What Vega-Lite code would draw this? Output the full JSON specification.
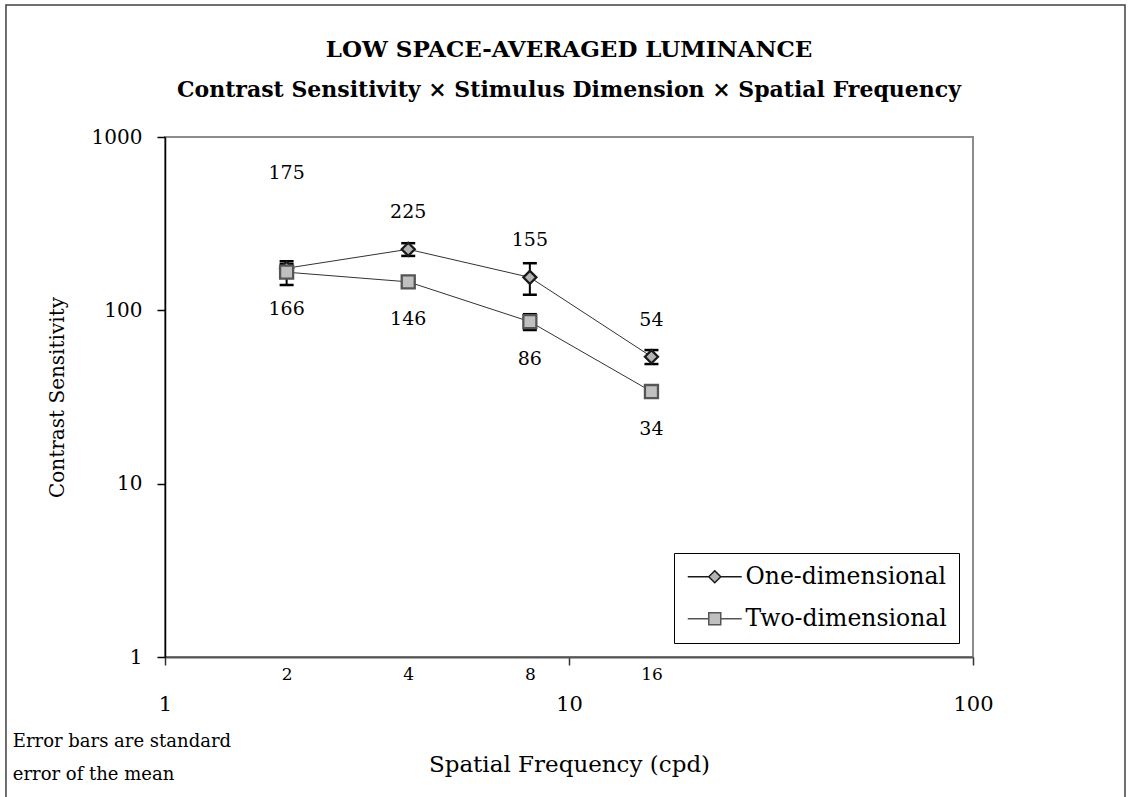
{
  "$schema": "https://vega.github.io/schema/vega-lite/v6.json",
  "width": 808,
  "height": 520,
  "autosize": {"type": "none"},
  "padding": {"left": 165, "top": 137, "right": 157, "bottom": 140},
  "background": "#ffffff",
  "config": {
    "view": {"stroke": "#8c8c8c", "strokeWidth": 2},
    "font": "DejaVu Serif",
    "axis": {"grid": false, "labelFlush": false}
  },
  "title": {
    "text": "LOW SPACE-AVERAGED LUMINANCE",
    "subtitle": "Contrast Sensitivity × Stimulus Dimension × Spatial Frequency",
    "font": "DejaVu Serif",
    "fontSize": 23,
    "fontWeight": "bold",
    "color": "#000000",
    "subtitleFont": "DejaVu Serif",
    "subtitleFontSize": 22,
    "subtitleFontWeight": "bold",
    "subtitleColor": "#000000",
    "subtitlePadding": 18,
    "anchor": "middle",
    "offset": -97
  },
  "data": {
    "values": [
      {"freq": 2, "series": "One-dimensional", "cs": 175, "lo": 165, "hi": 185},
      {"freq": 4, "series": "One-dimensional", "cs": 225, "lo": 206, "hi": 244},
      {"freq": 8, "series": "One-dimensional", "cs": 155, "lo": 123, "hi": 187},
      {"freq": 16, "series": "One-dimensional", "cs": 54, "lo": 49, "hi": 59},
      {"freq": 2, "series": "Two-dimensional", "cs": 166, "lo": 140, "hi": 192},
      {"freq": 4, "series": "Two-dimensional", "cs": 146, "lo": 140, "hi": 152},
      {"freq": 8, "series": "Two-dimensional", "cs": 86, "lo": 77, "hi": 95},
      {"freq": 16, "series": "Two-dimensional", "cs": 34, "lo": 32, "hi": 36}
    ]
  },
  "resolve": {
    "axis": {"x": "independent", "y": "independent"},
    "scale": {"shape": "independent", "fill": "independent", "stroke": "independent"}
  },
  "layer": [
    {
      "description": "frame around the whole figure",
      "data": {"values": [{"frame": "outer"}]},
      "mark": {"type": "rect", "fill": null, "fillOpacity": 0, "stroke": "#404040", "strokeWidth": 1.5},
      "encoding": {
        "x": {"datum": 0.404, "type": "quantitative", "scale": {"type": "log", "domain": [1, 100], "nice": false}, "axis": null},
        "x2": {"datum": 237.8},
        "y": {"datum": 5775, "type": "quantitative", "scale": {"type": "log", "domain": [1, 1000], "nice": false}, "axis": null},
        "y2": {"datum": 0.1}
      }
    },
    {
      "mark": {"type": "line", "color": "#333333", "strokeWidth": 1},
      "encoding": {
        "x": {
          "field": "freq", "type": "quantitative",
          "scale": {"type": "log", "domain": [1, 100], "nice": false},
          "axis": {
            "orient": "bottom", "values": [2, 4, 8, 16], "format": "d",
            "domain": false, "ticks": false, "title": null,
            "labelFont": "DejaVu Serif", "labelFontSize": 17, "labelColor": "#000000",
            "labelPadding": 9
          }
        },
        "y": {"field": "cs", "type": "quantitative", "scale": {"type": "log", "domain": [1, 1000], "nice": false}, "axis": null},
        "detail": {"field": "series"}
      }
    },
    {
      "mark": {"type": "rule", "color": "#000000", "strokeWidth": 2},
      "encoding": {
        "x": {"field": "freq", "type": "quantitative", "scale": {"type": "log", "domain": [1, 100], "nice": false}, "axis": null},
        "y": {"field": "lo", "type": "quantitative", "scale": {"type": "log", "domain": [1, 1000], "nice": false}, "axis": null},
        "y2": {"field": "hi"}
      }
    },
    {
      "mark": {"type": "tick", "orient": "horizontal", "size": 14, "thickness": 2.5, "color": "#000000", "opacity": 1},
      "encoding": {
        "x": {"field": "freq", "type": "quantitative", "scale": {"type": "log", "domain": [1, 100], "nice": false}, "axis": null},
        "y": {"field": "lo", "type": "quantitative", "scale": {"type": "log", "domain": [1, 1000], "nice": false}, "axis": null}
      }
    },
    {
      "mark": {"type": "tick", "orient": "horizontal", "size": 14, "thickness": 2.5, "color": "#000000", "opacity": 1},
      "encoding": {
        "x": {"field": "freq", "type": "quantitative", "scale": {"type": "log", "domain": [1, 100], "nice": false}, "axis": null},
        "y": {"field": "hi", "type": "quantitative", "scale": {"type": "log", "domain": [1, 1000], "nice": false}, "axis": null}
      }
    },
    {
      "mark": {"type": "point", "filled": true, "size": 170, "strokeWidth": 2.3, "opacity": 1},
      "encoding": {
        "x": {
          "field": "freq", "type": "quantitative",
          "scale": {"type": "log", "domain": [1, 100], "nice": false},
          "axis": {
            "orient": "bottom", "values": [1, 10, 100], "format": "d",
            "domainColor": "#555555", "domainWidth": 2,
            "tickColor": "#333333", "tickSize": 8, "tickWidth": 1.5,
            "labelFont": "DejaVu Serif", "labelFontSize": 21, "labelColor": "#000000",
            "labelPadding": 28,
            "title": "Spatial Frequency (cpd)",
            "titleFont": "DejaVu Serif", "titleFontSize": 23, "titleFontWeight": "normal",
            "titleColor": "#000000", "titlePadding": 39
          }
        },
        "y": {
          "field": "cs", "type": "quantitative",
          "scale": {"type": "log", "domain": [1, 1000], "nice": false},
          "axis": {
            "orient": "left",
            "values": [1, 10, 100, 1000], "format": "d",
            "domainColor": "#000000", "domainWidth": 1.5,
            "tickColor": "#000000", "tickSize": 8, "tickWidth": 1.5,
            "labelFont": "DejaVu Serif", "labelFontSize": 20, "labelColor": "#000000",
            "labelPadding": 15,
            "title": "Contrast Sensitivity",
            "titleFont": "DejaVu Serif", "titleFontSize": 20, "titleFontWeight": "normal",
            "titleColor": "#000000", "titlePadding": 24
          }
        },
        "shape": {
          "field": "series", "type": "nominal",
          "scale": {"domain": ["One-dimensional", "Two-dimensional"], "range": ["diamond", "square"]},
          "legend": null
        },
        "fill": {
          "field": "series", "type": "nominal",
          "scale": {"domain": ["One-dimensional", "Two-dimensional"], "range": ["#b4b4b4", "#c0c0c0"]},
          "legend": null
        },
        "stroke": {
          "field": "series", "type": "nominal",
          "scale": {"domain": ["One-dimensional", "Two-dimensional"], "range": ["#1a1a1a", "#555555"]},
          "legend": null
        }
      }
    },
    {
      "description": "legend key: each symbol is the marker with its connecting line",
      "mark": {"type": "point", "filled": true, "opacity": 0},
      "encoding": {
        "x": {"field": "freq", "type": "quantitative", "scale": {"type": "log", "domain": [1, 100], "nice": false}, "axis": null},
        "y": {"field": "cs", "type": "quantitative", "scale": {"type": "log", "domain": [1, 1000], "nice": false}, "axis": null},
        "shape": {
          "field": "series", "type": "nominal",
          "scale": {
            "domain": ["One-dimensional", "Two-dimensional"],
            "range": ["M-4.5,0H-1M1,0H4.5M0,-1L1,0L0,1L-1,0Z", "M-4.5,0H-1M1,0H4.5M-1,-1H1V1H-1Z"]
          },
          "legend": {
            "title": null, "orient": "bottom-right", "offset": 14,
            "labelFont": "DejaVu Serif", "labelFontSize": 23.5, "labelColor": "#000000",
            "labelLimit": 400,
            "strokeColor": "#000000", "fillColor": "#ffffff", "padding": 12,
            "symbolSize": 144, "symbolOffset": 17, "labelOffset": 19,
            "rowPadding": 17, "symbolStrokeWidth": 1.5, "symbolOpacity": 1
          }
        },
        "fill": {
          "field": "series", "type": "nominal",
          "scale": {"domain": ["One-dimensional", "Two-dimensional"], "range": ["#b4b4b4", "#c0c0c0"]},
          "legend": {
            "title": null, "orient": "bottom-right", "offset": 14,
            "labelFont": "DejaVu Serif", "labelFontSize": 23.5, "labelColor": "#000000",
            "labelLimit": 400,
            "strokeColor": "#000000", "fillColor": "#ffffff", "padding": 12,
            "symbolSize": 144, "symbolOffset": 17, "labelOffset": 19,
            "rowPadding": 17, "symbolStrokeWidth": 1.5, "symbolOpacity": 1
          }
        },
        "stroke": {
          "field": "series", "type": "nominal",
          "scale": {"domain": ["One-dimensional", "Two-dimensional"], "range": ["#1a1a1a", "#555555"]},
          "legend": {
            "title": null, "orient": "bottom-right", "offset": 14,
            "labelFont": "DejaVu Serif", "labelFontSize": 23.5, "labelColor": "#000000",
            "labelLimit": 400,
            "strokeColor": "#000000", "fillColor": "#ffffff", "padding": 12,
            "symbolSize": 144, "symbolOffset": 17, "labelOffset": 19,
            "rowPadding": 17, "symbolStrokeWidth": 1.5, "symbolOpacity": 1
          }
        }
      }
    },
    {
      "transform": [{"filter": "datum.series === 'One-dimensional' && datum.freq !== 2"}],
      "mark": {"type": "text", "dy": -37, "fontSize": 19, "font": "DejaVu Serif", "color": "#000000", "baseline": "middle"},
      "encoding": {
        "x": {"field": "freq", "type": "quantitative", "scale": {"type": "log", "domain": [1, 100], "nice": false}, "axis": null},
        "y": {"field": "cs", "type": "quantitative", "scale": {"type": "log", "domain": [1, 1000], "nice": false}, "axis": null},
        "text": {"field": "cs", "type": "quantitative"}
      }
    },
    {
      "transform": [{"filter": "datum.series === 'One-dimensional' && datum.freq === 2"}],
      "mark": {"type": "text", "dy": -95, "fontSize": 19, "font": "DejaVu Serif", "color": "#000000", "baseline": "middle"},
      "encoding": {
        "x": {"field": "freq", "type": "quantitative", "scale": {"type": "log", "domain": [1, 100], "nice": false}, "axis": null},
        "y": {"field": "cs", "type": "quantitative", "scale": {"type": "log", "domain": [1, 1000], "nice": false}, "axis": null},
        "text": {"field": "cs", "type": "quantitative"}
      }
    },
    {
      "transform": [{"filter": "datum.series === 'Two-dimensional'"}],
      "mark": {"type": "text", "dy": 37, "fontSize": 19, "font": "DejaVu Serif", "color": "#000000", "baseline": "middle"},
      "encoding": {
        "x": {"field": "freq", "type": "quantitative", "scale": {"type": "log", "domain": [1, 100], "nice": false}, "axis": null},
        "y": {"field": "cs", "type": "quantitative", "scale": {"type": "log", "domain": [1, 1000], "nice": false}, "axis": null},
        "text": {"field": "cs", "type": "quantitative"}
      }
    },
    {
      "description": "footnote below the axis",
      "data": {"values": [{"note": "Error bars are standard\nerror of the mean"}]},
      "mark": {"type": "text", "align": "left", "baseline": "middle", "fontSize": 18, "font": "DejaVu Serif", "color": "#000000", "lineBreak": "\n", "lineHeight": 33},
      "encoding": {
        "x": {"datum": 0.42, "type": "quantitative", "scale": {"type": "log", "domain": [1, 100], "nice": false}, "axis": null},
        "y": {"datum": 0.3233, "type": "quantitative", "scale": {"type": "log", "domain": [1, 1000], "nice": false}, "axis": null},
        "text": {"field": "note"}
      }
    }
  ]
}
